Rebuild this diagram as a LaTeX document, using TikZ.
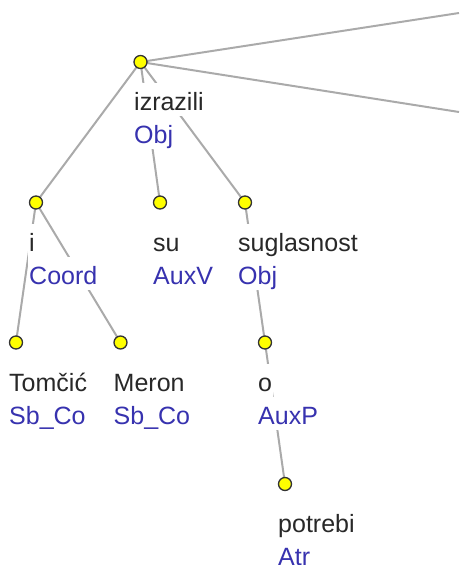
\documentclass[tikz,border=0pt]{standalone}
\usepackage{fontspec}
\setmainfont{Liberation Sans}
\usetikzlibrary{backgrounds}
\definecolor{wordcol}{RGB}{40,40,40}
\definecolor{afuncol}{RGB}{55,50,175}
\definecolor{edgecol}{RGB}{170,170,170}
\definecolor{dotcol}{RGB}{255,255,0}
\tikzset{
  dot/.style={circle, draw=black!80, line width=1.3pt, fill=dotcol, minimum size=13pt, inner sep=0pt},
  word/.style={anchor=base west, fill=white, inner sep=0pt, inner xsep=1pt, text height=27pt, text depth=6pt,
    font=\fontsize{25}{33}\selectfont, text=wordcol},
  afun/.style={word, text=afuncol},
  edge/.style={draw=edgecol, line width=2pt}
}
\begin{document}
\begin{tikzpicture}[x=1pt, y=-1pt]
    \useasboundingbox (0,0) rectangle (459,565);
    % nodes of the tree
    \node[dot] (izrazili) at (140.5, 62) {};
    \node[dot] (i) at (36, 202.5) {};
    \node[dot] (su) at (160, 202.5) {};
    \node[dot] (suglasnost) at (245, 202.5) {};
    \node[dot] (tomcic) at (16, 342.5) {};
    \node[dot] (meron) at (120.5, 342.5) {};
    \node[dot] (o) at (265, 342.5) {};
    \node[dot] (potrebi) at (285, 484) {};
    \coordinate (up) at (459, 13);
    \coordinate (down) at (459, 112);
    % labels
    \node[word] (izrazili-w) at ([xshift=-7.5pt, yshift=-48pt]izrazili.center) {izrazili};
    \node[afun] (izrazili-a) at ([yshift=-33pt]izrazili-w.base west) {Obj};
    \node[word] (i-w) at ([xshift=-8pt, yshift=-48.5pt]i.center) {i};
    \node[afun] (i-a) at ([yshift=-33pt]i-w.base west) {Coord};
    \node[word] (su-w) at ([xshift=-8pt, yshift=-48.5pt]su.center) {su};
    \node[afun] (su-a) at ([yshift=-33pt]su-w.base west) {AuxV};
    \node[word] (suglasnost-w) at ([xshift=-8pt, yshift=-48.5pt]suglasnost.center) {suglasnost};
    \node[afun] (suglasnost-a) at ([yshift=-33pt]suglasnost-w.base west) {Obj};
    \node[word] (tomcic-w) at ([xshift=-8pt, yshift=-48.5pt]tomcic.center) {Tomčić};
    \node[afun] (tomcic-a) at ([yshift=-33pt]tomcic-w.base west) {Sb\_Co};
    \node[word] (meron-w) at ([xshift=-8pt, yshift=-48.5pt]meron.center) {Meron};
    \node[afun] (meron-a) at ([yshift=-33pt]meron-w.base west) {Sb\_Co};
    \node[word] (o-w) at ([xshift=-8pt, yshift=-48.5pt]o.center) {o};
    \node[afun] (o-a) at ([yshift=-33pt]o-w.base west) {AuxP};
    \node[word] (potrebi-w) at ([xshift=-8pt, yshift=-48pt]potrebi.center) {potrebi};
    \node[afun] (potrebi-a) at ([yshift=-33pt]potrebi-w.base west) {Atr};
    % edges
    \begin{scope}[on background layer]
      \draw[edge] (izrazili.center) -- (up);
      \draw[edge] (izrazili.center) -- (down);
      \draw[edge] (izrazili.center) -- (i.center);
      \draw[edge] (izrazili.center) -- (su.center);
      \draw[edge] (izrazili.center) -- (suglasnost.center);
      \draw[edge] (i.center) -- (tomcic.center);
      \draw[edge] (i.center) -- (meron.center);
      \draw[edge] (suglasnost.center) -- (o.center);
      \draw[edge] (o.center) -- (potrebi.center);
    \end{scope}
  \end{tikzpicture}
\end{document}
